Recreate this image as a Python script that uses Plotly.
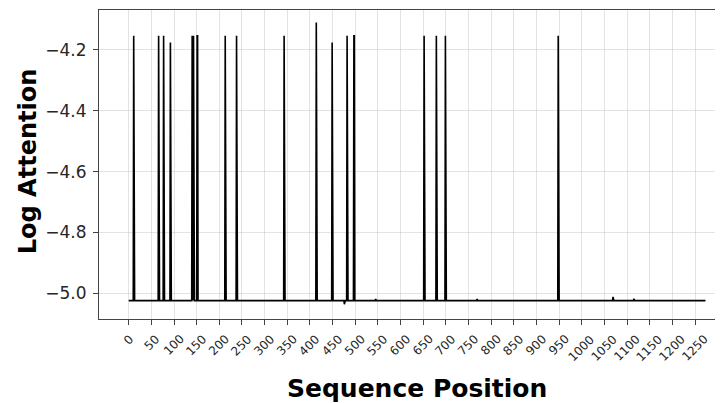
import numpy as np
import plotly.graph_objects as go

# ---- data ----
seq_len = 1274
baseline = -5.024

spike_pos = [11, 66, 77, 92, 140, 143, 151, 152, 213, 238, 343, 414, 449,
             482, 497, 498, 652, 679, 699, 948]
spike_val = [-4.153, -4.153, -4.153, -4.175, -4.153, -4.153, -4.153, -4.153,
             -4.153, -4.153, -4.153, -4.110, -4.175, -4.153, -4.153, -4.153,
             -4.153, -4.153, -4.153, -4.153]

small_pos = [476, 545, 769, 1069, 1115]
small_val = [-5.036, -5.019, -5.019, -5.012, -5.018]

x_ticks = list(range(0, 1251, 50))
x_tick_text = [str(t) for t in x_ticks]
y_ticks = [-5.0, -4.8, -4.6, -4.4, -4.2]
y_tick_text = ["\u22125.0", "\u22124.8", "\u22124.6", "\u22124.4", "\u22124.2"]

# ---- build the series ----
positions = np.arange(seq_len)
values = np.full(seq_len, baseline)
for p, v in zip(spike_pos, spike_val):
    values[p] = v
for p, v in zip(small_pos, small_val):
    values[p] = v

fig = go.Figure()
fig.add_trace(go.Scatter(
    x=positions, y=values, mode="lines",
    line=dict(color="black", width=1.6),
    hoverinfo="skip", showlegend=False,
))

grid_col = "rgba(176,176,176,0.35)"
axis_col = "#444444"
tick_font = dict(family="DejaVu Sans", color="#262626")

fig.update_xaxes(
    range=[-65.6, 1311.7],
    tickmode="array", tickvals=x_ticks, showticklabels=False,
    showgrid=True, gridcolor=grid_col, gridwidth=1,
    showline=True, linecolor=axis_col, linewidth=1.2, mirror=True,
    ticks="outside", ticklen=5, tickwidth=1.2, tickcolor=axis_col,
    zeroline=False,
)
fig.update_yaxes(
    range=[-5.0845, -4.0685],
    tickmode="array", tickvals=y_ticks, ticktext=y_tick_text,
    tickfont=dict(size=17, **tick_font), ticklabelstandoff=3,
    showgrid=True, gridcolor=grid_col, gridwidth=1,
    showline=True, linecolor=axis_col, linewidth=1.2, mirror=False,
    ticks="outside", ticklen=5, tickwidth=1.2, tickcolor=axis_col,
    zeroline=False,
)

# rotated x tick labels, centred on their ticks (as in the reference)
for t, lab in zip(x_ticks, x_tick_text):
    fig.add_annotation(
        text=lab, x=t, xref="x", y=-0.0388, yref="paper",
        xanchor="center", yanchor="top", textangle=-45, showarrow=False,
        borderpad=0, font=dict(size=12, **tick_font),
    )

fig.add_annotation(
    text="<b>Sequence Position</b>", xref="paper", yref="paper",
    x=0.509, y=-0.2265, xanchor="center", yanchor="middle", showarrow=False,
    font=dict(family="DejaVu Sans", size=25, color="black"),
)
fig.add_annotation(
    text="<b>Log Attention</b>", xref="paper", yref="paper",
    x=-0.1146, y=0.509, xanchor="center", yanchor="middle", showarrow=False,
    textangle=-90,
    font=dict(family="DejaVu Sans", size=24, color="black"),
)

# the page adds an 8px body margin, so the figure is 8px smaller and shifted
fig.update_layout(
    width=715, height=395,
    margin=dict(l=91, r=0, t=2, b=84),
    paper_bgcolor="white", plot_bgcolor="white",
)

fig.write_html("out.html")
